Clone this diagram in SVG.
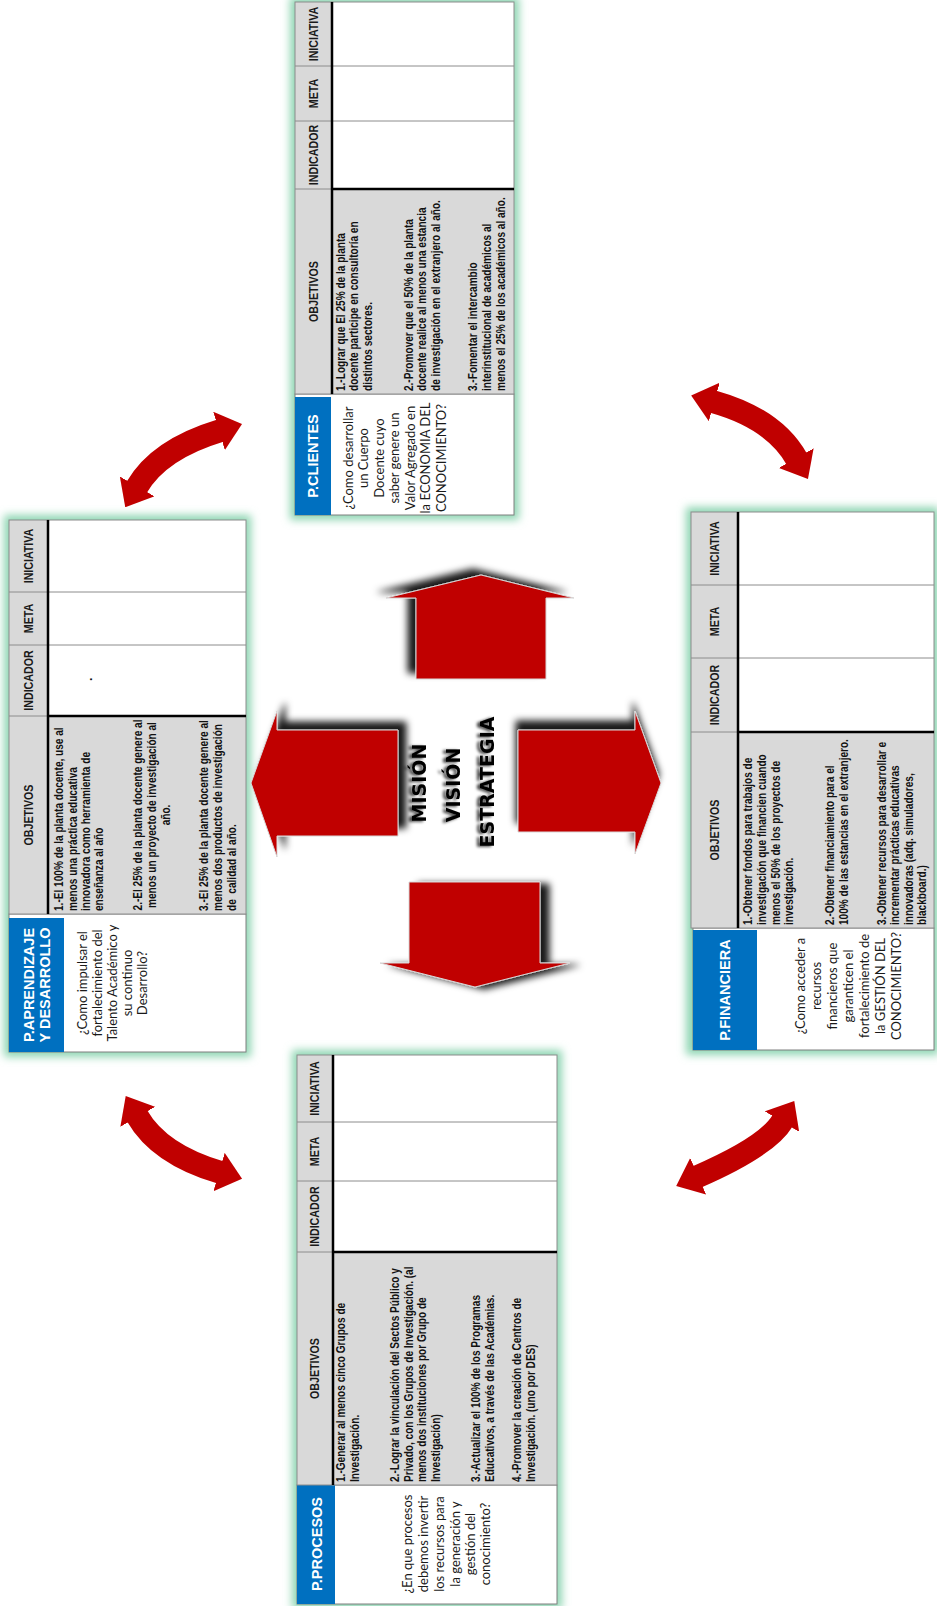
<svg xmlns="http://www.w3.org/2000/svg" width="937" height="1606" viewBox="0 0 937 1606">
<defs>
<style>
.glow{fill:#8FD6B3;filter:url(#blur5)}
.tbox{fill:#fff;stroke:#7F7F7F;stroke-width:1}
.blue{fill:#0070C0}
.hdr{fill:#D9D9D9;stroke:#8C8C8C;stroke-width:1}
.cell{fill:#fff;stroke:#8C8C8C;stroke-width:1}
.grid{stroke:#8C8C8C;stroke-width:1;fill:none}
.thick{stroke:#000;stroke-width:2.5;fill:none}
.ttl{font-family:'Liberation Sans',Arial,sans-serif;font-weight:bold;font-size:14.5px;fill:#fff;text-anchor:middle}
.q{font-family:Lato,'Liberation Sans',sans-serif;font-size:13px;fill:#1a1a1a;text-anchor:middle}
.h{font-family:'Liberation Sans',Arial,sans-serif;font-weight:bold;font-size:13px;fill:#1a1a1a;text-anchor:middle}
.o{font-family:'Liberation Sans',Arial,sans-serif;font-weight:bold;font-size:12.3px;fill:#111}
.oc{text-anchor:middle}
.big{fill:#C00000;stroke:#d8d8d8;stroke-width:1}
.curve{fill:none;stroke:#C00000;stroke-width:23;marker-start:url(#ah);marker-end:url(#ah)}
.ctr{font-family:'DejaVu Sans',Verdana,sans-serif;font-weight:bold;font-size:19px;fill:#000;text-anchor:middle;filter:url(#tsh)}
</style>
<filter id="blur5" x="-20%" y="-20%" width="140%" height="140%"><feGaussianBlur stdDeviation="4"/></filter>
<filter id="shU" x="-40%" y="-40%" width="180%" height="180%"><feGaussianBlur in="SourceAlpha" stdDeviation="3.5"/><feOffset dx="-8" dy="-6" result="o"/><feFlood flood-color="#000" flood-opacity="0.9"/><feComposite in2="o" operator="in"/><feMerge><feMergeNode/><feMergeNode in="SourceGraphic"/></feMerge></filter>
<filter id="shD" x="-40%" y="-40%" width="180%" height="180%"><feGaussianBlur in="SourceAlpha" stdDeviation="3.5"/><feOffset dx="9" dy="2" result="o"/><feFlood flood-color="#000" flood-opacity="0.9"/><feComposite in2="o" operator="in"/><feMerge><feMergeNode/><feMergeNode in="SourceGraphic"/></feMerge></filter>
<filter id="shL" x="-40%" y="-40%" width="180%" height="180%"><feGaussianBlur in="SourceAlpha" stdDeviation="3.5"/><feOffset dx="8" dy="-8" result="o"/><feFlood flood-color="#000" flood-opacity="0.9"/><feComposite in2="o" operator="in"/><feMerge><feMergeNode/><feMergeNode in="SourceGraphic"/></feMerge></filter>
<filter id="shR" x="-40%" y="-40%" width="180%" height="180%"><feGaussianBlur in="SourceAlpha" stdDeviation="3.5"/><feOffset dx="-2" dy="-9" result="o"/><feFlood flood-color="#000" flood-opacity="0.9"/><feComposite in2="o" operator="in"/><feMerge><feMergeNode/><feMergeNode in="SourceGraphic"/></feMerge></filter>
<filter id="tsh" x="-30%" y="-60%" width="160%" height="220%"><feGaussianBlur in="SourceAlpha" stdDeviation="1.8"/><feOffset dx="-1" dy="-3" result="o"/><feFlood flood-color="#000" flood-opacity="0.75"/><feComposite in2="o" operator="in"/><feMerge><feMergeNode/><feMergeNode in="SourceGraphic"/></feMerge></filter>
<marker id="ah" viewBox="0 0 24 40" refX="1" refY="20" markerWidth="24" markerHeight="40" markerUnits="userSpaceOnUse" orient="auto-start-reverse"><path d="M0,0L24,20L0,40z" fill="#C00000"/></marker>
</defs>
<rect x="0" y="0" width="937" height="1606" fill="#fff"/>

<!-- P.CLIENTES (top) -->
<g id="p-clientes" transform="translate(295,515) rotate(-90)">
<rect class="glow" x="-5" y="-5" width="523" height="229"/>
<rect class="tbox" x="0" y="0" width="121" height="219"/>
<rect class="blue" x="0" y="0" width="118" height="36"/>
<text class="ttl" x="59" y="23">P.CLIENTES</text>
<text class="q" x="57" y="57.5">¿Como desarrollar</text>
<text class="q" x="57" y="73">un Cuerpo</text>
<text class="q" x="57" y="88.5">Docente cuyo</text>
<text class="q" x="57" y="104">saber genere un</text>
<text class="q" x="57" y="119.5">Valor Agregado en</text>
<text class="q" x="57" y="135">la ECONOMIA DEL</text>
<text class="q" x="57" y="150.5">CONOCIMIENTO?</text>
<rect class="hdr" x="121" y="0" width="392" height="37"/>
<rect class="hdr" x="121" y="37" width="205" height="182"/>
<rect class="cell" x="326" y="37" width="187" height="182"/>
<path class="grid" d="M326,0V219M394,0V219M449,0V219"/>
<path class="thick" d="M121,37H513M326,37V219"/>
<g transform="scale(0.82,1)">
<text class="h" x="272.56" y="23">OBJETIVOS</text>
<text class="h" x="439.02" y="23">INDICADOR</text>
<text class="h" x="514.02" y="23">META</text>
<text class="h" x="586.59" y="23">INICIATIVA</text>
<text class="o" x="151.2" y="50">1.-Lograr que El 25% de la planta</text>
<text class="o" x="151.2" y="63.5">docente participe en consultoría en</text>
<text class="o" x="151.2" y="77">distintos sectores.</text>
<text class="o" x="151.2" y="118">2.-Promover que el 50% de la planta</text>
<text class="o" x="151.2" y="131.5">docente realice al menos una estancia</text>
<text class="o" x="151.2" y="145">de investigación en el extranjero al año.</text>
<text class="o" x="151.2" y="182">3.-Fomentar el intercambio</text>
<text class="o" x="151.2" y="196">interinstitucional de académicos al</text>
<text class="o" x="151.2" y="210">menos el 25% de los académicos al año.</text>
</g>
</g>

<!-- P.APRENDIZAJE Y DESARROLLO (left) -->
<g id="p-aprendizaje" transform="translate(9,1052) rotate(-90)">
<rect class="glow" x="-5" y="-5" width="542" height="247"/>
<rect class="tbox" x="0" y="0" width="138" height="237"/>
<rect class="blue" x="0" y="0" width="134" height="55"/>
<text class="ttl" x="67" y="25">P.APRENDIZAJE</text>
<text class="ttl" x="67" y="41">Y DESARROLLO</text>
<text class="q" x="69" y="77.5">¿Como impulsar el</text>
<text class="q" x="69" y="92.5">fortalecimiento del</text>
<text class="q" x="69" y="107.5">Talento Académico y</text>
<text class="q" x="69" y="122.5">su continuo</text>
<text class="q" x="69" y="137.5">Desarrollo?</text>
<rect class="hdr" x="138" y="0" width="394" height="39"/>
<rect class="hdr" x="138" y="39" width="198" height="198"/>
<rect class="cell" x="336" y="39" width="196" height="198"/>
<path class="grid" d="M336,0V237M407,0V237M460,0V237"/>
<path class="thick" d="M138,39H532M336,39V237"/>
<text class="o" x="371" y="83">.</text>
<g transform="scale(0.82,1)">
<text class="h" x="289.02" y="24">OBJETIVOS</text>
<text class="h" x="453.05" y="24">INDICADOR</text>
<text class="h" x="528.66" y="24">META</text>
<text class="h" x="604.88" y="24">INICIATIVA</text>
<text class="o" x="171.95" y="54">1.-El 100% de la planta docente, use al</text>
<text class="o" x="171.95" y="68">menos una práctica educativa</text>
<text class="o" x="171.95" y="81">innovadora como herramienta de</text>
<text class="o" x="171.95" y="94">enseñanza al año</text>
<text class="o oc" x="289.02" y="133">2.-El 25% de la planta docente genere al</text>
<text class="o oc" x="289.02" y="147">menos un proyecto de investigación al</text>
<text class="o oc" x="289.02" y="161">año.</text>
<text class="o" x="171.95" y="199">3.-El 25% de la planta docente genere al</text>
<text class="o" x="171.95" y="213">menos dos productos de investigación</text>
<text class="o" x="171.95" y="227" xml:space="preserve">de  calidad al año.</text>
</g>
</g>

<!-- P.FINANCIERA (right) -->
<g id="p-financiera" transform="translate(691,1050) rotate(-90)">
<rect class="glow" x="-5" y="-5" width="548" height="253"/>
<rect class="tbox" x="0" y="2" width="122" height="241"/>
<rect class="blue" x="0" y="2" width="120" height="64"/>
<text class="ttl" x="60" y="39">P.FINANCIERA</text>
<text class="q" x="64" y="113.5">¿Como acceder a</text>
<text class="q" x="64" y="130">recursos</text>
<text class="q" x="64" y="146">financieros que</text>
<text class="q" x="64" y="162">garanticen el</text>
<text class="q" x="64" y="178">fortalecimiento de</text>
<text class="q" x="64" y="194">la GESTIÓN DEL</text>
<text class="q" x="64" y="209.5">CONOCIMIENTO?</text>
<rect class="hdr" x="122" y="0" width="416" height="47"/>
<rect class="hdr" x="122" y="47" width="196" height="196"/>
<rect class="cell" x="318" y="47" width="220" height="196"/>
<path class="grid" d="M318,0V243M392,0V243M465,0V243"/>
<path class="thick" d="M122,47H538M318,47V243"/>
<g transform="scale(0.82,1)">
<text class="h" x="268.29" y="28">OBJETIVOS</text>
<text class="h" x="432.93" y="28">INDICADOR</text>
<text class="h" x="522.56" y="28">META</text>
<text class="h" x="611.59" y="28">INICIATIVA</text>
<text class="o" x="152.44" y="61">1.-Obtener fondos para trabajos de</text>
<text class="o" x="152.44" y="75">investigación que financien cuando</text>
<text class="o" x="152.44" y="89">menos el 50% de los proyectos de</text>
<text class="o" x="152.44" y="102">investigación.</text>
<text class="o" x="152.44" y="143">2.-Obtener financiamiento para el</text>
<text class="o" x="152.44" y="157">100% de las estancias en el extranjero.</text>
<text class="o" x="152.44" y="195">3.-Obtener recursos para desarrollar e</text>
<text class="o" x="152.44" y="208">incrementar prácticas educativas</text>
<text class="o" x="152.44" y="222">innovadoras (adq. simuladores,</text>
<text class="o" x="152.44" y="235">blackboard.)</text>
</g>
</g>

<!-- P.PROCESOS (bottom) -->
<g id="p-procesos" transform="translate(297,1604) rotate(-90)">
<rect class="glow" x="-5" y="-5" width="559" height="270"/>
<rect class="tbox" x="0" y="0" width="119" height="260"/>
<rect class="blue" x="0" y="0" width="119" height="38"/>
<text class="ttl" x="60" y="25">P.PROCESOS</text>
<text class="q" x="60" y="115">¿En que procesos</text>
<text class="q" x="60" y="131">debemos invertir</text>
<text class="q" x="60" y="147">los recursos para</text>
<text class="q" x="60" y="162.5">la generación y</text>
<text class="q" x="60" y="177.5">gestión del</text>
<text class="q" x="60" y="192.5">conocimiento?</text>
<rect class="hdr" x="119" y="0" width="430" height="36"/>
<rect class="hdr" x="119" y="36" width="233" height="224"/>
<rect class="cell" x="352" y="36" width="197" height="224"/>
<path class="grid" d="M352,0V260M423,0V260M482,0V260"/>
<path class="thick" d="M119,36H549M352,36V260"/>
<g transform="scale(0.82,1)">
<text class="h" x="287.2" y="22.5">OBJETIVOS</text>
<text class="h" x="472.56" y="22.5">INDICADOR</text>
<text class="h" x="551.83" y="22.5">META</text>
<text class="h" x="628.66" y="22.5">INICIATIVA</text>
<text class="o" x="148.78" y="48">1.-Generar al menos cinco Grupos de</text>
<text class="o" x="148.78" y="62">Investigación.</text>
<text class="o" x="148.78" y="102">2.-Lograr la vinculación del Sectos Público y</text>
<text class="o" x="148.78" y="116">Privado, con los Grupos de Investigación. (al</text>
<text class="o" x="148.78" y="129">menos dos instituciones por Grupo de</text>
<text class="o" x="148.78" y="143">Investigación)</text>
<text class="o" x="148.78" y="183">3.-Actualizar el 100% de los Programas</text>
<text class="o" x="148.78" y="197">Educativos, a través de las Académias.</text>
<text class="o" x="148.78" y="224">4.-Promover la creación de Centros de</text>
<text class="o" x="148.78" y="238">Investigación. (uno por DES)</text>
</g>
</g>

<!-- Center -->
<g id="center">
<text class="ctr" transform="translate(426,783) rotate(-90)">MISIÓN</text>
<text class="ctr" transform="translate(460,785) rotate(-90)">VISIÓN</text>
<text class="ctr" transform="translate(494,782) rotate(-90)">ESTRATEGIA</text>
</g>

<g id="connectors">
<polygon class="big" filter="url(#shU)" points="416,679 416,598 386,598 481,575 574,598 546,598 546,679"/>
<polygon class="big" filter="url(#shD)" points="409,882 540,882 540,963 570,963 475,987 380,963 409,963"/>
<polygon class="big" filter="url(#shL)" points="398,730 398,836 277,836 277,857 251,783 277,711 277,730"/>
<polygon class="big" filter="url(#shR)" points="518,730 635,730 635,711 661,783 635,854 635,832 518,832"/>
<path class="curve" d="M136.7,487.3 Q158.5,449.3 220,430.7"/>
<path class="curve" d="M713.3,401.7 Q774.1,418.8 796.7,459"/>
<path class="curve" d="M137.2,1116 Q159.4,1154.5 220,1172.3"/>
<path class="curve" d="M697.3,1176.7 Q767.4,1146.2 782.5,1120.8"/>
</g>
</svg>
